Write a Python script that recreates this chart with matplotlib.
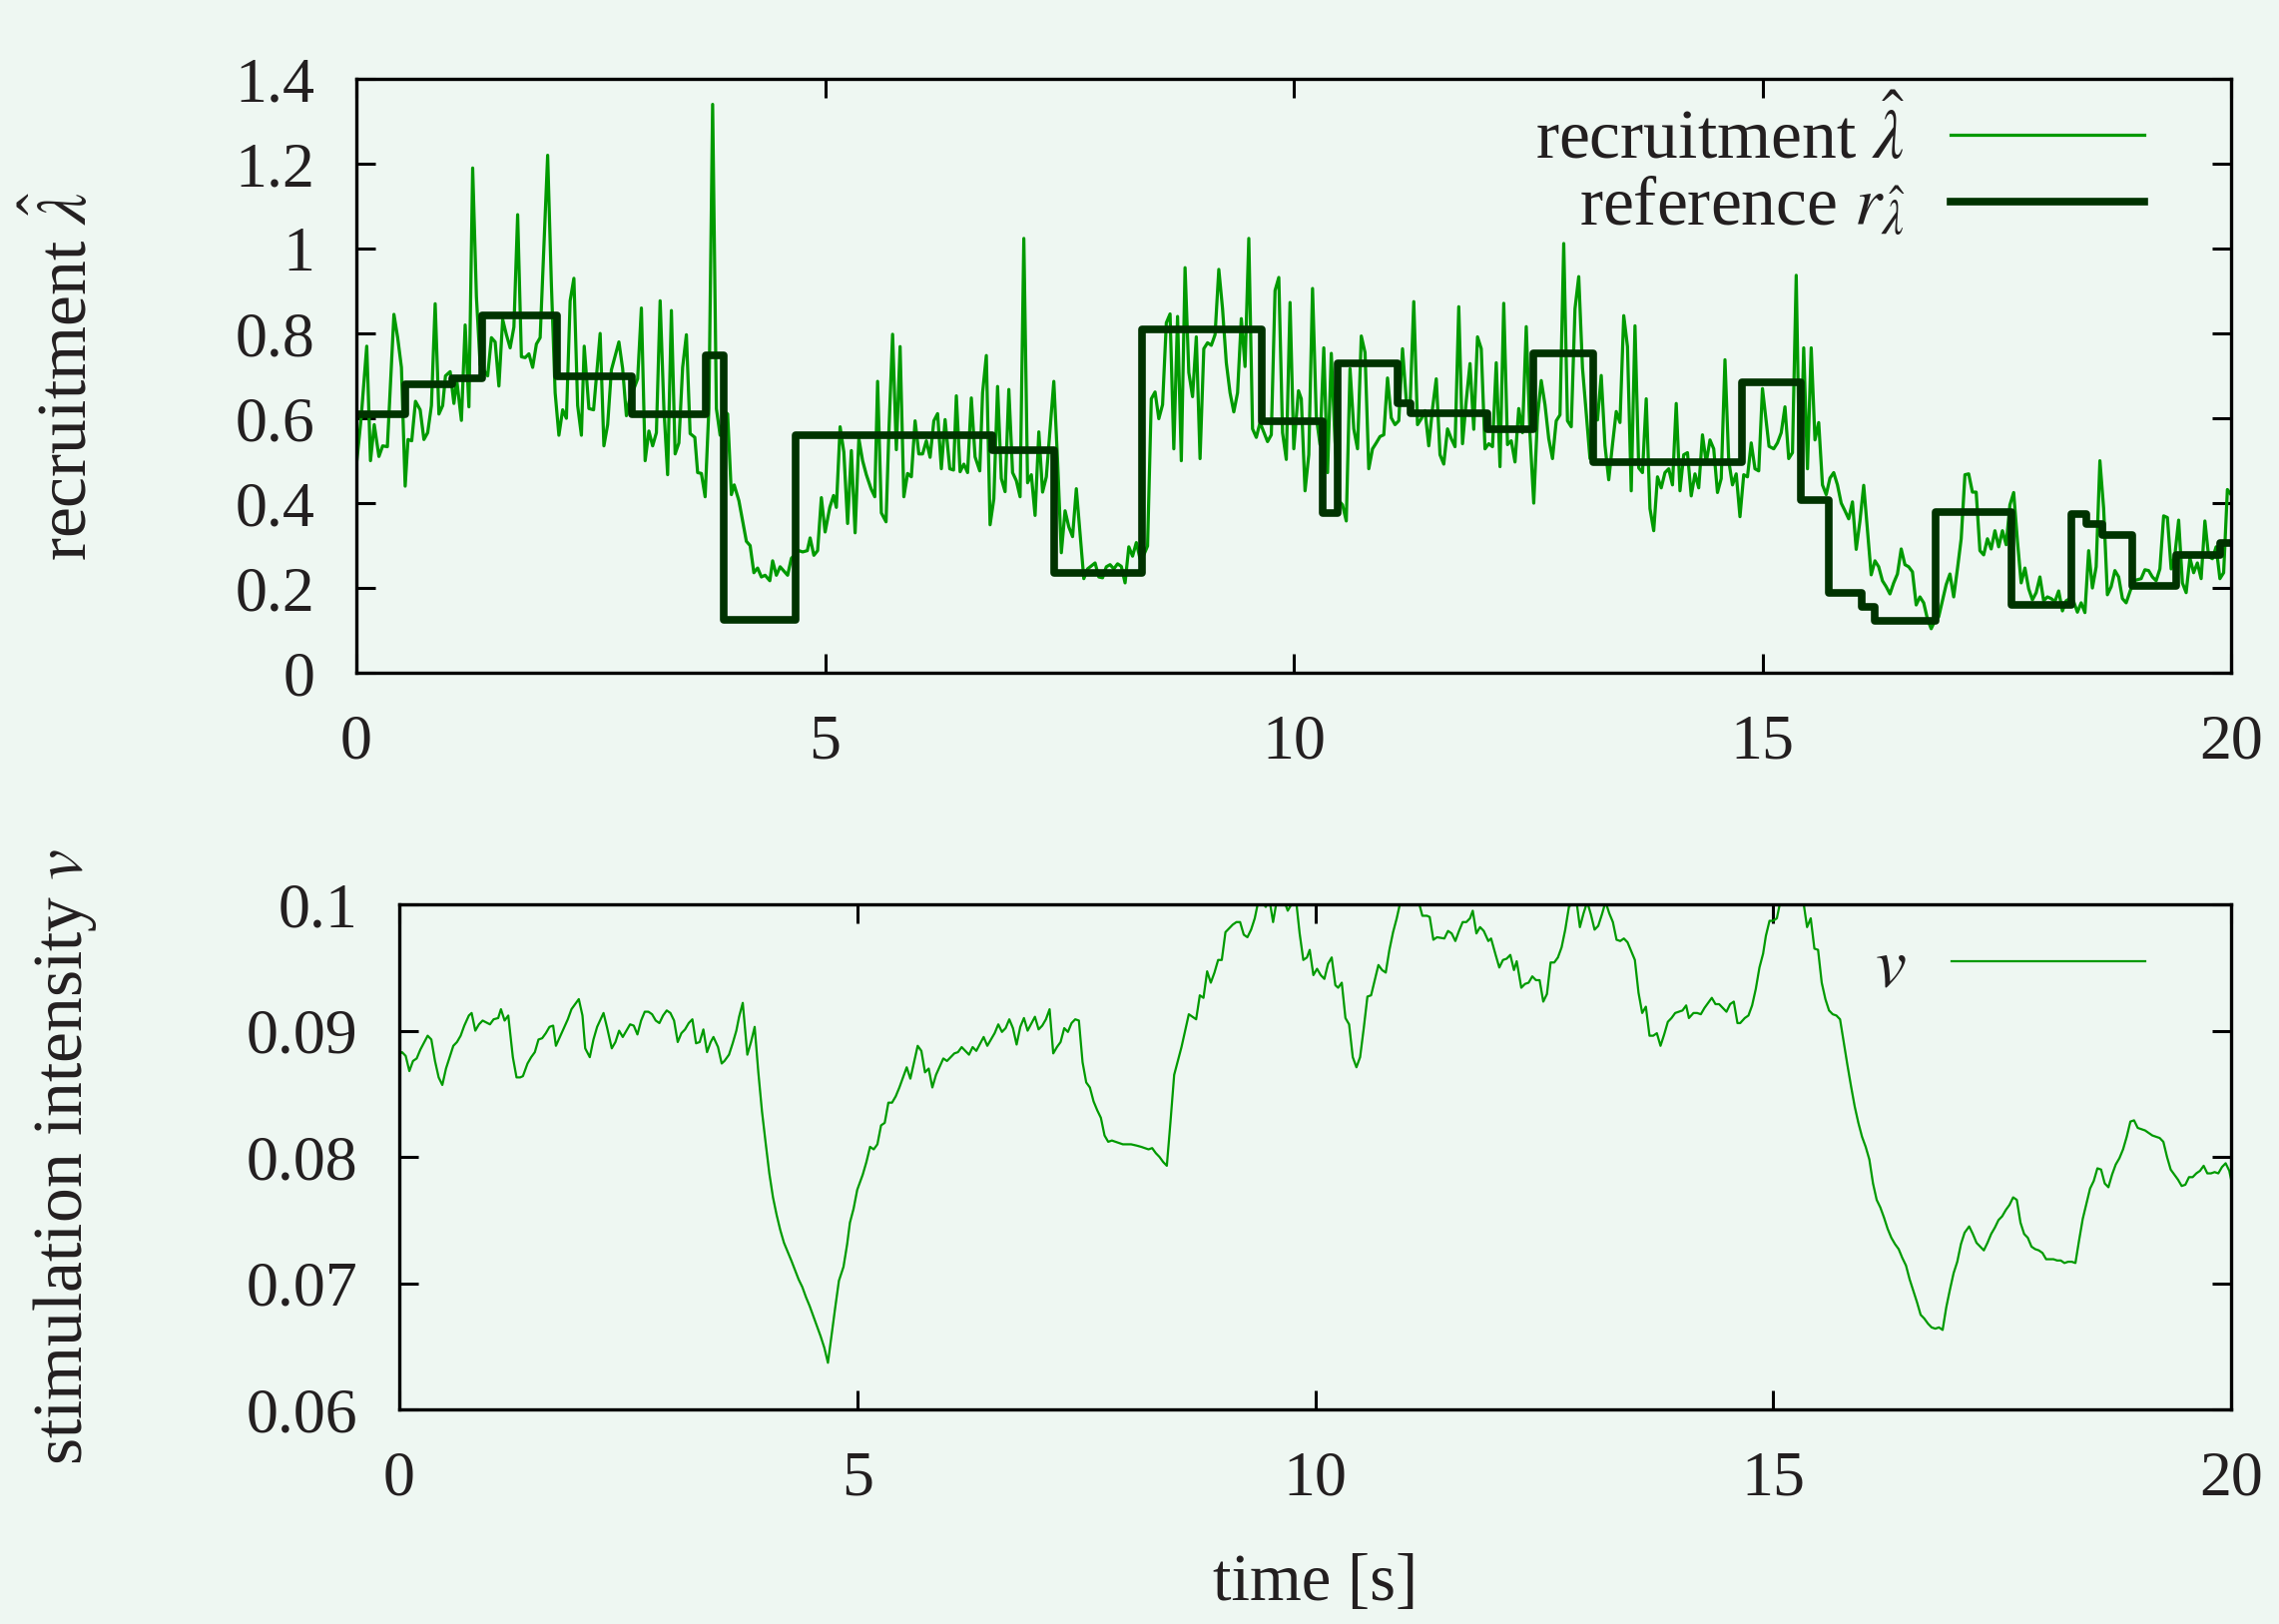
import matplotlib
matplotlib.use("Agg")
import matplotlib.pyplot as plt
from matplotlib.ticker import FuncFormatter, MultipleLocator

# measured recruitment (time [s], value)
lam_t = [0.00, 0.05, 0.11, 0.15, 0.19, 0.24, 0.28, 0.33, 0.40, 0.44, 0.48, 0.52, 0.55, 0.59, 0.63, 0.68,
         0.72, 0.76, 0.80, 0.84, 0.88, 0.92, 0.95, 1.00, 1.04, 1.07, 1.12, 1.16, 1.20, 1.24, 1.28, 1.32,
         1.40, 1.44, 1.48, 1.52, 1.56, 1.60, 1.64, 1.68, 1.72, 1.76, 1.80, 1.84, 1.88, 1.92, 1.96, 2.04,
         2.08, 2.12, 2.16, 2.20, 2.24, 2.28, 2.32, 2.36, 2.40, 2.43, 2.48, 2.53, 2.60, 2.64, 2.68, 2.72,
         2.80, 2.84, 2.88, 2.91, 3.00, 3.04, 3.08, 3.12, 3.16, 3.20, 3.24, 3.28, 3.32, 3.36, 3.40, 3.44,
         3.48, 3.52, 3.56, 3.61, 3.64, 3.68, 3.72, 3.76, 3.80, 3.84, 3.88, 3.93, 3.96, 4.00, 4.03, 4.08,
         4.16, 4.20, 4.24, 4.28, 4.32, 4.36, 4.41, 4.44, 4.48, 4.52, 4.60, 4.64, 4.72, 4.76, 4.81, 4.84,
         4.88, 4.92, 4.96, 5.00,
         5.05, 5.09, 5.12, 5.16, 5.20, 5.24, 5.28, 5.32, 5.36, 5.40, 5.44, 5.49, 5.53, 5.56, 5.60, 5.65,
         5.68, 5.72, 5.76, 5.80, 5.84, 5.88, 5.92, 5.96, 6.00, 6.04, 6.08, 6.12, 6.16, 6.20, 6.24, 6.28,
         6.33, 6.37, 6.40, 6.44, 6.48, 6.52, 6.56, 6.60, 6.65, 6.68, 6.72, 6.76, 6.80, 6.84, 6.88, 6.92,
         6.96, 7.00, 7.04, 7.08, 7.12, 7.16, 7.20, 7.24, 7.28, 7.32, 7.36, 7.44, 7.48, 7.52, 7.56, 7.60,
         7.64, 7.68, 7.76, 7.80, 7.88, 7.92, 7.96, 8.00, 8.04, 8.08, 8.12, 8.16, 8.20, 8.24, 8.28, 8.32,
         8.36, 8.40, 8.44, 8.48, 8.52, 8.56, 8.60, 8.64, 8.68, 8.72, 8.76, 8.80, 8.84, 8.88, 8.92, 8.96,
         9.00, 9.04, 9.08, 9.12, 9.16, 9.20, 9.24, 9.28, 9.32, 9.36, 9.40, 9.44, 9.48, 9.52, 9.56, 9.60,
         9.64, 9.72, 9.76, 9.80, 9.84, 9.88, 9.92, 9.96, 10.00,
         10.05, 10.08, 10.12, 10.16, 10.20, 10.24, 10.28, 10.32, 10.36, 10.40, 10.44, 10.48, 10.52, 10.56,
         10.60, 10.64, 10.68, 10.72, 10.76, 10.80, 10.84, 10.88, 10.92, 10.96, 11.00, 11.04, 11.08, 11.12,
         11.16, 11.20, 11.24, 11.28, 11.32, 11.36, 11.40, 11.44, 11.48, 11.52, 11.56, 11.60, 11.64, 11.68,
         11.72, 11.76, 11.80, 11.84, 11.88, 11.92, 11.96, 12.00, 12.04, 12.08, 12.12, 12.16, 12.20, 12.24,
         12.28, 12.32, 12.36, 12.40, 12.44, 12.48, 12.52, 12.56, 12.60, 12.64, 12.68, 12.72, 12.76, 12.80,
         12.84, 12.88, 12.92, 12.96, 13.00, 13.04, 13.08, 13.12, 13.16, 13.20, 13.24, 13.28, 13.32, 13.36,
         13.40, 13.44, 13.48, 13.52, 13.56, 13.60, 13.64, 13.68, 13.72, 13.76, 13.80, 13.84, 13.88, 13.92,
         13.96, 14.00, 14.04, 14.08, 14.12, 14.16, 14.20, 14.24, 14.28, 14.32, 14.36, 14.40, 14.44, 14.48,
         14.52, 14.56, 14.60, 14.64, 14.68, 14.72, 14.76, 14.80, 14.84, 14.88, 14.92, 14.96, 15.00,
         15.07, 15.12, 15.16, 15.20, 15.24, 15.28, 15.32, 15.36, 15.40, 15.44, 15.48, 15.52, 15.56, 15.60,
         15.64, 15.68, 15.72, 15.76, 15.80, 15.84, 15.88, 15.92, 15.96, 16.00, 16.04, 16.08, 16.12, 16.16,
         16.20, 16.24, 16.28, 16.32, 16.36, 16.40, 16.44, 16.48, 16.52, 16.56, 16.60, 16.64, 16.68, 16.72,
         16.76, 16.80, 16.84, 16.88, 16.92, 16.96, 17.00, 17.04, 17.08, 17.12, 17.16, 17.20, 17.24, 17.28,
         17.32, 17.36, 17.40, 17.44, 17.48, 17.52, 17.56, 17.60, 17.64, 17.68, 17.72, 17.76, 17.80, 17.84,
         17.88, 17.92, 17.96, 18.00, 18.04, 18.08, 18.12, 18.16, 18.20, 18.24, 18.28, 18.32, 18.36, 18.40,
         18.44, 18.48, 18.52, 18.56, 18.60, 18.64, 18.68, 18.72, 18.76, 18.80, 18.84, 18.88, 18.96, 19.04,
         19.08, 19.12, 19.16, 19.20, 19.24, 19.28, 19.32, 19.36, 19.40, 19.44, 19.48, 19.52, 19.56, 19.60,
         19.64, 19.68, 19.72, 19.76, 19.80, 19.84, 19.88, 19.92, 19.96, 20.00]
lam_v = [0.49, 0.60, 0.77, 0.50, 0.585, 0.51, 0.535, 0.533, 0.845, 0.79, 0.72, 0.44, 0.55, 0.547, 0.64, 0.62,
         0.55, 0.566, 0.63, 0.87, 0.61, 0.63, 0.70, 0.71, 0.635, 0.69, 0.595, 0.82, 0.627, 1.19, 0.887, 0.726,
         0.70, 0.79, 0.78, 0.676, 0.833, 0.797, 0.766, 0.815, 1.08, 0.745, 0.743, 0.752, 0.72, 0.775, 0.79, 1.22,
         0.915, 0.66, 0.56, 0.62, 0.60, 0.877, 0.93, 0.63, 0.56, 0.77, 0.623, 0.62, 0.80, 0.535, 0.585, 0.714,
         0.78, 0.717, 0.606, 0.64, 0.693, 0.86, 0.50, 0.57, 0.535, 0.566, 0.877, 0.623, 0.467, 0.854, 0.516, 0.542,
         0.72, 0.797, 0.564, 0.555, 0.472, 0.47, 0.415, 0.623, 1.34, 0.623, 0.56, 0.616, 0.61, 0.42, 0.443, 0.406,
         0.31, 0.30, 0.236, 0.247, 0.226, 0.23, 0.217, 0.264, 0.23, 0.25, 0.23, 0.27, 0.288, 0.285, 0.288, 0.318,
         0.277, 0.288, 0.413, 0.332,
         0.39, 0.418, 0.39, 0.58, 0.52, 0.352, 0.524, 0.33, 0.552, 0.50, 0.467, 0.434, 0.415, 0.687, 0.377, 0.356,
         0.566, 0.798, 0.526, 0.769, 0.415, 0.47, 0.462, 0.594, 0.516, 0.516, 0.547, 0.508, 0.594, 0.611, 0.481, 0.597,
         0.481, 0.478, 0.653, 0.474, 0.492, 0.472, 0.648, 0.509, 0.476, 0.66, 0.748, 0.349, 0.41, 0.675, 0.458, 0.427,
         0.668, 0.472, 0.453, 0.415, 1.024, 0.448, 0.467, 0.371, 0.568, 0.426, 0.462, 0.687, 0.50, 0.283, 0.382, 0.344,
         0.321, 0.434, 0.222, 0.245, 0.259, 0.226, 0.224, 0.25, 0.255, 0.245, 0.257, 0.251, 0.212, 0.297, 0.275, 0.307,
         0.269, 0.278, 0.299, 0.646, 0.662, 0.599, 0.632, 0.825, 0.846, 0.528, 0.84, 0.50, 0.955, 0.708, 0.651, 0.792,
         0.505, 0.764, 0.778, 0.772, 0.797, 0.951, 0.858, 0.731, 0.66, 0.615, 0.66, 0.835, 0.722, 1.024, 0.575, 0.555,
         0.59, 0.545, 0.561, 0.901, 0.932, 0.566, 0.503, 0.873, 0.528,
         0.665, 0.646, 0.429, 0.514, 0.906, 0.604, 0.538, 0.766, 0.472, 0.753, 0.547, 0.406, 0.396, 0.358,
         0.717, 0.575, 0.528, 0.794, 0.755, 0.481, 0.528, 0.542, 0.557, 0.561, 0.695, 0.601, 0.585, 0.594,
         0.764, 0.642, 0.627, 0.875, 0.585, 0.599, 0.618, 0.535, 0.623, 0.693, 0.514, 0.492, 0.575, 0.552,
         0.533, 0.863, 0.54, 0.642, 0.729, 0.574, 0.792, 0.764, 0.528, 0.54, 0.533, 0.731, 0.486, 0.871,
         0.538, 0.547, 0.497, 0.623, 0.566, 0.816, 0.561, 0.40, 0.604, 0.689, 0.632, 0.552, 0.505, 0.594,
         0.608, 1.012, 0.594, 0.58, 0.858, 0.934, 0.719, 0.613, 0.505, 0.601, 0.596, 0.701, 0.536, 0.455,
         0.538, 0.616, 0.59, 0.842, 0.769, 0.429, 0.818, 0.483, 0.472, 0.646, 0.387, 0.335, 0.462, 0.436,
         0.472, 0.481, 0.443, 0.635, 0.429, 0.514, 0.519, 0.417, 0.469, 0.436, 0.561, 0.495, 0.549, 0.528,
         0.425, 0.458, 0.738, 0.50, 0.443, 0.469, 0.368, 0.467, 0.462, 0.542, 0.481, 0.476, 0.67,
         0.534, 0.528, 0.542, 0.566, 0.627, 0.505, 0.519, 0.937, 0.425, 0.766, 0.481, 0.766, 0.549, 0.59,
         0.443, 0.42, 0.459, 0.472, 0.443, 0.40, 0.382, 0.363, 0.403, 0.291, 0.358, 0.442, 0.335, 0.231,
         0.264, 0.25, 0.217, 0.203, 0.186, 0.212, 0.233, 0.292, 0.255, 0.25, 0.238, 0.16, 0.179, 0.165,
         0.127, 0.104, 0.123, 0.132, 0.17, 0.208, 0.233, 0.179, 0.245, 0.316, 0.467, 0.469, 0.426, 0.426,
         0.288, 0.278, 0.316, 0.292, 0.335, 0.297, 0.335, 0.302, 0.396, 0.425, 0.311, 0.212, 0.247, 0.198,
         0.172, 0.189, 0.226, 0.17, 0.179, 0.175, 0.168, 0.193, 0.146, 0.17, 0.175, 0.168, 0.143, 0.165,
         0.142, 0.288, 0.20, 0.25, 0.50, 0.387, 0.184, 0.203, 0.241, 0.226, 0.175, 0.165, 0.217, 0.222,
         0.243, 0.241, 0.226, 0.217, 0.245, 0.37, 0.366, 0.245, 0.278, 0.36, 0.212, 0.189, 0.271, 0.236,
         0.259, 0.222, 0.358, 0.274, 0.269, 0.297, 0.222, 0.236, 0.432, 0.42]

# piecewise-constant reference: switching instants and levels
ref_t = [0, 0.52, 1.02, 1.34, 2.14, 2.94, 3.73, 3.92, 4.69, 6.78, 7.44, 8.38, 9.66, 10.31, 10.47,
         11.11, 11.25, 12.07, 12.56, 13.19, 14.78, 15.41, 15.71, 16.06, 16.20, 16.85, 17.66, 18.30,
         18.46, 18.63, 18.95, 19.41, 19.88, 20.0]
ref_v = [0.61, 0.68, 0.695, 0.843, 0.698, 0.61, 0.748, 0.125, 0.56, 0.524, 0.236, 0.81, 0.594, 0.377,
         0.729, 0.635, 0.611, 0.574, 0.753, 0.497, 0.684, 0.408, 0.189, 0.156, 0.123, 0.379, 0.16, 0.375,
         0.351, 0.325, 0.206, 0.278, 0.305, 0.305]

# stimulation intensity
v_t = [0.00, 0.03, 0.07, 0.11, 0.15, 0.19, 0.23, 0.31, 0.35, 0.39, 0.43, 0.47, 0.51, 0.59, 0.63, 0.67,
       0.71, 0.76, 0.79, 0.83, 0.87, 0.91, 0.99, 1.03, 1.08, 1.11, 1.15, 1.19, 1.24, 1.28, 1.32, 1.35,
       1.40, 1.44, 1.48, 1.52, 1.56, 1.60, 1.64, 1.68, 1.71, 1.79, 1.84, 1.88, 1.92, 1.96, 2.00, 2.03,
       2.08, 2.12, 2.16, 2.23, 2.27, 2.32, 2.36, 2.40, 2.44, 2.52, 2.56, 2.60, 2.64, 2.68, 2.72, 2.76,
       2.80, 2.84, 2.88, 2.92, 2.96, 3.00, 3.04, 3.08, 3.12, 3.16, 3.20, 3.24, 3.28, 3.32, 3.36, 3.40,
       3.43, 3.48, 3.52, 3.55, 3.60, 3.64, 3.68, 3.71, 3.75, 3.80, 3.84, 3.88, 3.92, 3.96, 4.00, 4.04,
       4.08, 4.12, 4.16, 4.20, 4.28, 4.36, 4.40, 4.44, 4.48, 4.52, 4.56, 4.60, 4.64, 4.68, 4.72, 4.76,
       4.80, 4.85, 4.89, 4.92, 4.96, 5.00,
       5.06, 5.10, 5.14, 5.18, 5.22, 5.26, 5.30, 5.34, 5.38, 5.42, 5.46, 5.50, 5.54, 5.58, 5.62, 5.66,
       5.70, 5.74, 5.78, 5.82, 5.86, 5.94, 5.98, 6.06, 6.10, 6.14, 6.22, 6.26, 6.30, 6.38, 6.42, 6.50,
       6.54, 6.58, 6.62, 6.66, 6.70, 6.74, 6.78, 6.82, 6.86, 6.94, 6.98, 7.02, 7.06, 7.10, 7.14, 7.18,
       7.22, 7.26, 7.30, 7.34, 7.38, 7.42, 7.46, 7.50, 7.54, 7.58, 7.62, 7.66, 7.70, 7.74, 7.78, 7.86,
       7.90, 7.94, 7.99, 8.05, 8.10, 8.18, 8.22, 8.26, 8.30, 8.34, 8.38, 8.42, 8.46, 8.50, 8.54, 8.58,
       8.62, 8.66, 8.70, 8.74, 8.78, 8.82, 8.86, 8.90, 8.94, 8.98, 9.02, 9.06, 9.10, 9.14, 9.18, 9.22,
       9.26, 9.30, 9.34, 9.38, 9.42, 9.46, 9.50, 9.54, 9.58, 9.62, 9.66, 9.70, 9.74, 9.79, 9.83, 9.87,
       9.91, 9.94, 9.98, 10.02, 10.06, 10.10, 10.14, 10.18, 10.22, 10.25,
       10.29, 10.33, 10.37, 10.41, 10.45, 10.49, 10.53, 10.57, 10.61, 10.65, 10.69, 10.73, 10.77, 10.81,
       10.85, 10.89, 10.93, 11.02, 11.13, 11.17, 11.22, 11.25, 11.29, 11.33, 11.41, 11.45, 11.49, 11.53,
       11.57, 11.61, 11.65, 11.69, 11.72, 11.76, 11.80, 11.84, 11.89, 11.92, 11.97, 12.01, 12.05, 12.09,
       12.13, 12.17, 12.20, 12.25, 12.29, 12.33, 12.37, 12.41, 12.45, 12.49, 12.53, 12.57, 12.61, 12.65,
       12.69, 12.73, 12.77, 12.81, 12.85, 12.89, 12.93, 12.97, 13.01, 13.05, 13.09, 13.13, 13.17, 13.21,
       13.25, 13.29, 13.33, 13.37, 13.41, 13.45, 13.49, 13.53, 13.57, 13.61, 13.65, 13.69, 13.73, 13.77,
       13.81, 13.85, 13.89, 13.93, 13.97, 14.01, 14.05, 14.08, 14.13, 14.17, 14.21, 14.25, 14.29, 14.33,
       14.37, 14.41, 14.45, 14.49, 14.53, 14.57, 14.61, 14.64, 14.69, 14.73, 14.77, 14.81, 14.85, 14.89,
       14.92, 14.96, 15.00, 15.04,
       15.08, 15.20, 15.33, 15.37, 15.41, 15.45, 15.49, 15.53, 15.57, 15.61, 15.65, 15.69, 15.73, 15.77,
       15.81, 15.85, 15.89, 15.93, 15.97, 16.01, 16.05, 16.09, 16.13, 16.17, 16.21, 16.25, 16.29, 16.33,
       16.37, 16.41, 16.45, 16.49, 16.53, 16.57, 16.61, 16.65, 16.69, 16.73, 16.77, 16.81, 16.85, 16.89,
       16.93, 16.97, 17.01, 17.05, 17.09, 17.14, 17.18, 17.22, 17.26, 17.30, 17.34, 17.38, 17.42, 17.46,
       17.50, 17.54, 17.58, 17.62, 17.66, 17.70, 17.74, 17.78, 17.82, 17.86, 17.90, 17.94, 17.98, 18.02,
       18.06, 18.10, 18.14, 18.18, 18.22, 18.26, 18.30, 18.34, 18.38, 18.42, 18.46, 18.50, 18.54, 18.58,
       18.62, 18.66, 18.70, 18.74, 18.78, 18.82, 18.86, 18.90, 18.94, 18.98, 19.02, 19.06, 19.10, 19.14,
       19.18, 19.22, 19.26, 19.30, 19.34, 19.38, 19.42, 19.46, 19.50, 19.54, 19.58, 19.62, 19.66, 19.70,
       19.74, 19.78, 19.82, 19.86, 19.90, 19.94, 19.98, 20.00]
v_v = [0.0881, 0.0883, 0.0880, 0.0868, 0.0876, 0.0878, 0.0885, 0.0896, 0.0893, 0.0876, 0.0863, 0.0857,
       0.0870, 0.0888, 0.0891, 0.0896, 0.0904, 0.0912, 0.0914, 0.0900, 0.0905, 0.0908, 0.0905, 0.0909,
       0.0910, 0.0917, 0.0908, 0.0912, 0.0879, 0.0863, 0.0863, 0.0864, 0.0874, 0.0879, 0.0883, 0.0893,
       0.0894, 0.0898, 0.0903, 0.0904, 0.0888, 0.0901, 0.0909, 0.0917, 0.0921, 0.0925, 0.0912, 0.0886,
       0.0879, 0.0893, 0.0903, 0.0914, 0.0902, 0.0886, 0.0891, 0.0900, 0.0895, 0.0905, 0.0904, 0.0897,
       0.0908, 0.0915, 0.0915, 0.0913, 0.0908, 0.0906, 0.0912, 0.0916, 0.0914, 0.0908, 0.0891, 0.0898,
       0.0901, 0.0906, 0.0909, 0.0890, 0.0891, 0.0901, 0.0883, 0.0891, 0.0895, 0.0887, 0.0874, 0.0876,
       0.0881, 0.0890, 0.0900, 0.0911, 0.0922, 0.0881, 0.0891, 0.0903, 0.0867, 0.0836, 0.0811, 0.0787,
       0.0768, 0.0754, 0.0742, 0.0732, 0.0718, 0.0703, 0.0697, 0.0689, 0.0682, 0.0674, 0.0666, 0.0658,
       0.0649, 0.0637, 0.0659, 0.0681, 0.0702, 0.0713, 0.0731, 0.0748, 0.0759, 0.0774,
       0.0786, 0.0796, 0.0808, 0.0806, 0.0810, 0.0825, 0.0827, 0.0843, 0.0843, 0.0848, 0.0855, 0.0863,
       0.0871, 0.0862, 0.0875, 0.0888, 0.0884, 0.0867, 0.0870, 0.0855, 0.0865, 0.0878, 0.0876, 0.0882,
       0.0883, 0.0887, 0.0881, 0.0887, 0.0884, 0.0895, 0.0888, 0.0898, 0.0905, 0.0899, 0.0902, 0.0909,
       0.0902, 0.0889, 0.0903, 0.0910, 0.0900, 0.0911, 0.0901, 0.0904, 0.0909, 0.0917, 0.0882, 0.0887,
       0.0891, 0.0902, 0.0899, 0.0906, 0.0909, 0.0908, 0.0875, 0.0859, 0.0855, 0.0844, 0.0837, 0.0831,
       0.0817, 0.0812, 0.0813, 0.0811, 0.0810, 0.0810, 0.0810, 0.0809, 0.0808, 0.0806, 0.0807, 0.0803,
       0.0800, 0.0796, 0.0793, 0.0828, 0.0865, 0.0876, 0.0887, 0.0900, 0.0913, 0.0911, 0.0909, 0.0928,
       0.0926, 0.0947, 0.0938, 0.0946, 0.0956, 0.0956, 0.0978, 0.0981, 0.0984, 0.0986, 0.0986, 0.0976,
       0.0974, 0.0980, 0.0989, 0.1003, 0.1002, 0.0998, 0.1004, 0.0986, 0.1003, 0.1005, 0.1003, 0.0995,
       0.1000, 0.1004, 0.0977, 0.0956, 0.0958, 0.0964, 0.0944, 0.0949, 0.0944, 0.0941, 0.0953, 0.0958,
       0.0936, 0.0934,
       0.0938, 0.0910, 0.0905, 0.0879, 0.0871, 0.0879, 0.0902, 0.0927, 0.0928, 0.0940, 0.0952, 0.0948,
       0.0946, 0.0964, 0.0978, 0.0989, 0.1002, 0.1010, 0.1002, 0.0991, 0.0991, 0.0990, 0.0972, 0.0974,
       0.0973, 0.0979, 0.0977, 0.0971, 0.0979, 0.0986, 0.0986, 0.0989, 0.0995, 0.0977, 0.0982, 0.0979,
       0.0971, 0.0973, 0.0960, 0.0950, 0.0956, 0.0957, 0.0960, 0.0948, 0.0955, 0.0934, 0.0937, 0.0938,
       0.0943, 0.0940, 0.0940, 0.0923, 0.0929, 0.0954, 0.0954, 0.0958, 0.0966, 0.0980, 0.0998, 0.1001,
       0.1004, 0.0982, 0.0993, 0.1002, 0.0992, 0.0980, 0.0983, 0.0992, 0.1002, 0.0993, 0.0986, 0.0972,
       0.0971, 0.0973, 0.0970, 0.0963, 0.0956, 0.0930, 0.0914, 0.0919, 0.0896, 0.0896, 0.0898, 0.0888,
       0.0897, 0.0907, 0.0910, 0.0914, 0.0915, 0.0916, 0.0920, 0.0910, 0.0914, 0.0914, 0.0913, 0.0918,
       0.0922, 0.0926, 0.0921, 0.0921, 0.0918, 0.0915, 0.0921, 0.0923, 0.0906, 0.0906, 0.0910, 0.0912,
       0.0920, 0.0933, 0.0950, 0.0961, 0.0975, 0.0987, 0.0987, 0.0989,
       0.1003, 0.1008, 0.1002, 0.0982, 0.0989, 0.0965, 0.0964, 0.0938, 0.0925, 0.0916, 0.0913, 0.0912,
       0.0909, 0.0891, 0.0873, 0.0856, 0.0840, 0.0827, 0.0816, 0.0808, 0.0798, 0.0779, 0.0766, 0.0760,
       0.0752, 0.0743, 0.0736, 0.0731, 0.0727, 0.0720, 0.0714, 0.0703, 0.0694, 0.0685, 0.0675, 0.0672,
       0.0668, 0.0665, 0.0664, 0.0665, 0.0663, 0.0681, 0.0695, 0.0708, 0.0717, 0.0731, 0.0740, 0.0745,
       0.0739, 0.0732, 0.0729, 0.0726, 0.0732, 0.0739, 0.0744, 0.0750, 0.0753, 0.0758, 0.0762, 0.0768,
       0.0766, 0.0748, 0.0739, 0.0736, 0.0729, 0.0727, 0.0726, 0.0724, 0.0719, 0.0719, 0.0719, 0.0718,
       0.0718, 0.0716, 0.0717, 0.0717, 0.0716, 0.0734, 0.0751, 0.0763, 0.0775, 0.0781, 0.0791, 0.0790,
       0.0779, 0.0776, 0.0786, 0.0794, 0.0799, 0.0806, 0.0816, 0.0828, 0.0829, 0.0823, 0.0822, 0.0821,
       0.0819, 0.0817, 0.0816, 0.0815, 0.0812, 0.0800, 0.0790, 0.0786, 0.0782, 0.0777, 0.0778, 0.0784,
       0.0784, 0.0787, 0.0789, 0.0793, 0.0787, 0.0787, 0.0788, 0.0787, 0.0792, 0.0795, 0.0789, 0.0782]

BG = '#eef7f2'
GREEN = '#009a00'
DARK = '#003300'
INK = '#231f20'
FS = 46      # tick labels
FS_TXT = 50  # axis titles and legend entries

plt.rcParams['font.family'] = ['Liberation Serif', 'DejaVu Serif']
plt.rcParams['mathtext.fontset'] = 'stix'
plt.rcParams['text.color'] = INK

fig = plt.figure(figsize=(22.83, 16.27), dpi=100, facecolor=BG)
ax1 = fig.add_axes([0.1564, 0.5857, 0.8226, 0.3657])
ax2 = fig.add_axes([0.1752, 0.1321, 0.8038, 0.3110])


def style(ax):
    ax.set_facecolor(BG)
    for sp in ax.spines.values():
        sp.set_linewidth(2.4)
        sp.set_color('black')
    ax.tick_params(direction='in', length=14, width=2.2, top=True, right=True,
                   labelsize=FS, pad=30, colors='black', labelcolor=INK)
    ax.xaxis.set_major_locator(MultipleLocator(5))
    ax.yaxis.set_major_formatter(FuncFormatter(lambda y, _: '%g' % round(y, 4)))
    ax.set_xlim(0, 20)


style(ax1)
ax1.plot(lam_t, lam_v, color=GREEN, lw=2.3, label=r'recruitment $\hat{\lambda}$')
ax1.step(ref_t, ref_v, where='post', color=DARK, lw=5.5, label=r'reference $r_{\hat{\lambda}}$')
ax1.set_ylim(0, 1.4)
ax1.yaxis.set_major_locator(MultipleLocator(0.2))
ax1.legend(loc='upper right', bbox_to_anchor=(0.9685, 1.01), frameon=False, markerfirst=False,
           fontsize=FS_TXT, handlelength=2.8, handletextpad=0.65, labelspacing=0.05, borderaxespad=0)

style(ax2)
ax2.plot(v_t, v_v, color=GREEN, lw=1.6, label=r'$v$')
ax2.set_ylim(0.06, 0.1)
ax2.yaxis.set_major_locator(MultipleLocator(0.01))
ax2.legend(loc='upper right', bbox_to_anchor=(0.9685, 0.99), frameon=False, markerfirst=False,
           fontsize=FS_TXT, handlelength=2.8, handletextpad=0.65, borderaxespad=0)

fig.text(0.0285, 0.7685, r'recruitment $\hat{\lambda}$', rotation=90, ha='center', va='center', fontsize=FS_TXT)
fig.text(0.0285, 0.2876, r'stimulation intensity $v$', rotation=90, ha='center', va='center', fontsize=FS_TXT)
fig.text(0.5773, 0.0246, 'time [s]', ha='center', va='center', fontsize=48)

fig.savefig('out.png', dpi=100, facecolor=BG)
